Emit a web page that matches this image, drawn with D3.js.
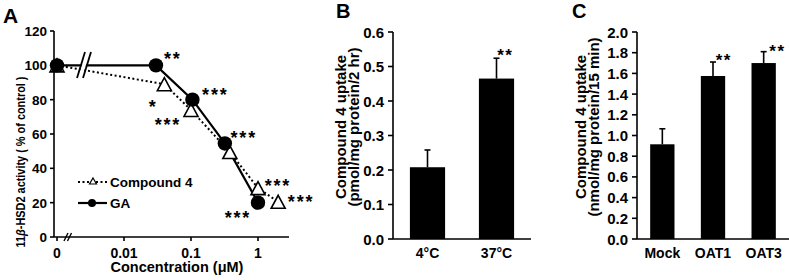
<!DOCTYPE html>
<html><head><meta charset="utf-8">
<script src="https://cdn.jsdelivr.net/npm/d3@7"></script>
<style>
html,body{margin:0;padding:0;background:#fff;}
svg{display:block;}
text{font-family:'Liberation Sans',Arial,Helvetica,sans-serif;font-weight:bold;fill:#000;}
</style></head>
<body>
<svg id="chart" width="789" height="280"></svg>
<script>
// ---------- DATA ----------
// Panel A
const aXTicks = [0, 0.01, 0.1, 1];
const aXTickLabels = ["0", "0.01", "0.1", "1"];
const aYTicks = [0, 20, 40, 60, 80, 100, 120];
const gaConc = [0, 0.03, 0.105, 0.32, 1];
const gaVals = [100, 100, 80, 54.5, 20];
const gaSig = ["", "**", "***", "***", "***"];
const c4Conc = [0, 0.04, 0.1, 0.38, 1, 2];
const c4Vals = [100, 89, 74, 49.5, 28.5, 20.5];
const c4Sig = ["", "*", "***", "", "***", "***"];
const legendNames = ["Compound 4", "GA"];
// Panel B
const bCats = ["4°C", "37°C"];
const bVals = [0.208, 0.465];
const bErr = [0.050, 0.059];
const bSig = ["", "**"];
const bYTicks = [0, 0.1, 0.2, 0.3, 0.4, 0.5, 0.6];
// Panel C
const cCats = ["Mock", "OAT1", "OAT3"];
const cVals = [0.915, 1.575, 1.70];
const cErr = [0.15, 0.135, 0.11];
const cSig = ["", "**", "**"];
const cYTicks = [0, 0.2, 0.4, 0.6, 0.8, 1.0, 1.2, 1.4, 1.6, 1.8, 2.0];

// ---------- LAYOUT / STYLE ----------
const svg = d3.select("#chart");
const AXW = 1.6;
const gaOff = [null, [16,-11], [22,-10], [18,-11], [-21,10]];
const c4Off = [null, [-12,18], [-24,10], null, [19,-7], [22,-5]];

function stars(g, cx, cy, txt, fs, ls) {
  if (!txt) return;
  g.append("text").attr("x", cx + ls/2).attr("y", cy + 0.62*fs)
    .attr("text-anchor","middle")
    .style("font-size", fs+"px").style("letter-spacing", ls+"px").text(txt);
}

// ================= PANEL A =================
{
  const g = svg.append("g");
  const zeroPos = 0.001;
  const xs = d3.scaleLog().domain([zeroPos, 1]).range([57, 258]);
  const X = v => xs(v === 0 ? zeroPos : v);
  const y = d3.scaleLinear().domain([0, 120]).range([237, 31]);
  const axL = 54, axR = 289;

  // axes
  g.append("line").attr("x1", axL).attr("x2", axL).attr("y1", y(120)).attr("y2", y(0))
    .attr("stroke","#000").attr("stroke-width",AXW);
  g.append("line").attr("x1", axL).attr("x2", axR).attr("y1", y(0)).attr("y2", y(0))
    .attr("stroke","#000").attr("stroke-width",AXW);
  aYTicks.forEach(t => {
    g.append("line").attr("x1", axL-4).attr("x2", axL).attr("y1", y(t)).attr("y2", y(t))
      .attr("stroke","#000").attr("stroke-width",AXW);
    g.append("text").attr("x", axL-7).attr("y", y(t)+5).attr("text-anchor","end")
      .style("font-size","13.5px").text(t);
  });
  aXTicks.forEach((t,i) => {
    g.append("line").attr("x1", X(t)).attr("x2", X(t)).attr("y1", y(0)).attr("y2", y(0)+4)
      .attr("stroke","#000").attr("stroke-width",AXW);
    g.append("text").attr("x", X(t)).attr("y", 257.5).attr("text-anchor","middle")
      .style("font-size","14px").text(aXTickLabels[i]);
  });
  // x-axis break
  [0,3.5].forEach(d => {
    g.append("line").attr("x1", 64+d).attr("y1", y(0)+4).attr("x2", 68+d).attr("y2", y(0)-4)
      .attr("stroke","#000").attr("stroke-width",1.4);
  });

  // lines
  const line = d3.line().x(d => X(d[0])).y(d => y(d[1]));
  const c4Pts = c4Conc.map((c,i) => [c, c4Vals[i]]);
  const gaPts = gaConc.map((c,i) => [c, gaVals[i]]);
  g.append("path").attr("d", line(c4Pts)).attr("fill","none").attr("stroke","#000")
    .attr("stroke-width",2).attr("stroke-dasharray","2,2.5");
  g.append("path").attr("d", line(gaPts)).attr("fill","none").attr("stroke","#000")
    .attr("stroke-width",2.2);

  // top break marks
  g.append("polygon").attr("points","78,78 86,52 90,52 82,78").attr("fill","#fff");
  g.append("line").attr("x1",77).attr("y1",78).attr("x2",85).attr("y2",52).attr("stroke","#000").attr("stroke-width",1.8);
  g.append("line").attr("x1",83).attr("y1",78).attr("x2",91).attr("y2",52).attr("stroke","#000").attr("stroke-width",1.8);

  // triangles
  const tri = (w,h) => `M0,${-h/2}L${w/2},${h/2}L${-w/2},${h/2}Z`;
  c4Pts.forEach(p => {
    g.append("path").attr("d", tri(14,13)).attr("transform",`translate(${X(p[0])},${y(p[1])})`)
      .attr("fill","#fff").attr("stroke","#000").attr("stroke-width",1.6);
  });
  gaPts.forEach(p => {
    g.append("circle").attr("cx", X(p[0])).attr("cy", y(p[1])).attr("r", 7.2).attr("fill","#000");
  });

  // significance
  gaPts.forEach((p,i) => { if (gaOff[i]) stars(g, X(p[0])+gaOff[i][0], y(p[1])+gaOff[i][1], gaSig[i], 18, 1.8); });
  c4Pts.forEach((p,i) => { if (c4Off[i]) stars(g, X(p[0])+c4Off[i][0], y(p[1])+c4Off[i][1], c4Sig[i], 18, 1.8); });

  // legend
  g.append("line").attr("x1",78).attr("x2",107).attr("y1",182).attr("y2",182)
    .attr("stroke","#000").attr("stroke-width",2).attr("stroke-dasharray","2,2.5");
  g.append("path").attr("d", tri(7,6)).attr("transform","translate(93,181)")
    .attr("fill","#fff").attr("stroke","#000").attr("stroke-width",1.2);
  g.append("text").attr("x",110).attr("y",186.5).style("font-size","13.5px").text(legendNames[0]);
  g.append("line").attr("x1",78).attr("x2",107).attr("y1",203).attr("y2",203)
    .attr("stroke","#000").attr("stroke-width",2.2);
  g.append("circle").attr("cx",92).attr("cy",203).attr("r",4).attr("fill","#000");
  g.append("text").attr("x",110).attr("y",207.5).style("font-size","13.5px").text(legendNames[1]);

  // axis titles
  g.append("text").attr("x",177).attr("y",272).attr("text-anchor","middle")
    .style("font-size","14.5px").text("Concentration (μM)");
  const yt = g.append("text").attr("transform","translate(25,162) rotate(-90)")
    .attr("text-anchor","middle").style("font-size","13.5px")
    .attr("textLength",171).attr("lengthAdjust","spacingAndGlyphs");
  yt.append("tspan").text("11");
  yt.append("tspan").style("font-style","italic").text("β");
  yt.append("tspan").text("-HSD2 activity ( % of control )");

  g.append("text").attr("x",3).attr("y",23).style("font-size","21px").text("A");
}

// ================= BAR PANELS =================
function barPanel(opts) {
  const g = svg.append("g");
  const x = d3.scaleBand().domain(opts.cats).range([opts.x0, opts.x1])
    .paddingInner(opts.pad).paddingOuter(opts.pad/2);
  const y = d3.scaleLinear().domain([0, opts.ymax]).range([239, 32]);
  g.append("line").attr("x1",opts.x0).attr("x2",opts.x0).attr("y1",y(opts.ymax)).attr("y2",y(0))
    .attr("stroke","#000").attr("stroke-width",AXW);
  g.append("line").attr("x1",opts.x0).attr("x2",opts.x1).attr("y1",y(0)).attr("y2",y(0))
    .attr("stroke","#000").attr("stroke-width",AXW);
  opts.ticks.forEach(t => {
    g.append("line").attr("x1",opts.x0-5).attr("x2",opts.x0).attr("y1",y(t)).attr("y2",y(t))
      .attr("stroke","#000").attr("stroke-width",AXW);
    g.append("text").attr("x",opts.x0-9).attr("y",y(t)+5.5).attr("text-anchor","end")
      .style("font-size","15px").text(d3.format(".1f")(t));
  });
  opts.cats.forEach((c,i) => {
    const cx = x(c) + x.bandwidth()/2;
    g.append("rect").attr("x",x(c)).attr("width",x.bandwidth())
      .attr("y",y(opts.vals[i])).attr("height",y(0)-y(opts.vals[i])).attr("fill","#000");
    const et = y(opts.vals[i]+opts.err[i]);
    g.append("line").attr("x1",cx).attr("x2",cx).attr("y1",y(opts.vals[i])).attr("y2",et)
      .attr("stroke","#000").attr("stroke-width",1.6);
    g.append("line").attr("x1",cx-3).attr("x2",cx+3).attr("y1",et).attr("y2",et)
      .attr("stroke","#000").attr("stroke-width",1.6);
    if (opts.sigOff[i]) stars(g, cx+opts.sigOff[i][0], et+opts.sigOff[i][1], opts.sig[i], 17, 1.5);
    g.append("text").attr("x",cx).attr("y",258).attr("text-anchor","middle")
      .style("font-size","14px").text(c);
  });
  const yl = g.append("text").attr("transform",`translate(${opts.lx},127) rotate(-90)`)
    .attr("text-anchor","middle").style("font-size","15px");
  yl.append("tspan").attr("x",0).attr("dy",0).text(opts.ylab[0]);
  yl.append("tspan").attr("x",0).attr("dy",13).text(opts.ylab[1]);
  g.append("text").attr("x",opts.px).attr("y",opts.py).style("font-size","20px").text(opts.plab);
}

barPanel({cats:bCats, vals:bVals, err:bErr, sig:bSig, sigOff:[null,[8,-8]],
  x0:393, x1:531, pad:0.49, ymax:0.6, ticks:bYTicks,
  ylab:["Compound 4 uptake","(pmol/mg protein/2 hr)"], lx:346, plab:"B", px:336, py:18});
barPanel({cats:cCats, vals:cVals, err:cErr, sig:cSig, sigOff:[null,[10,-7],[13,-5]],
  x0:637, x1:789, pad:0.52, ymax:2.0, ticks:cYTicks,
  ylab:["Compound 4 uptake","(nmol/mg protein/15 min)"], lx:586, plab:"C", px:572, py:18});
</script>
</body></html>
